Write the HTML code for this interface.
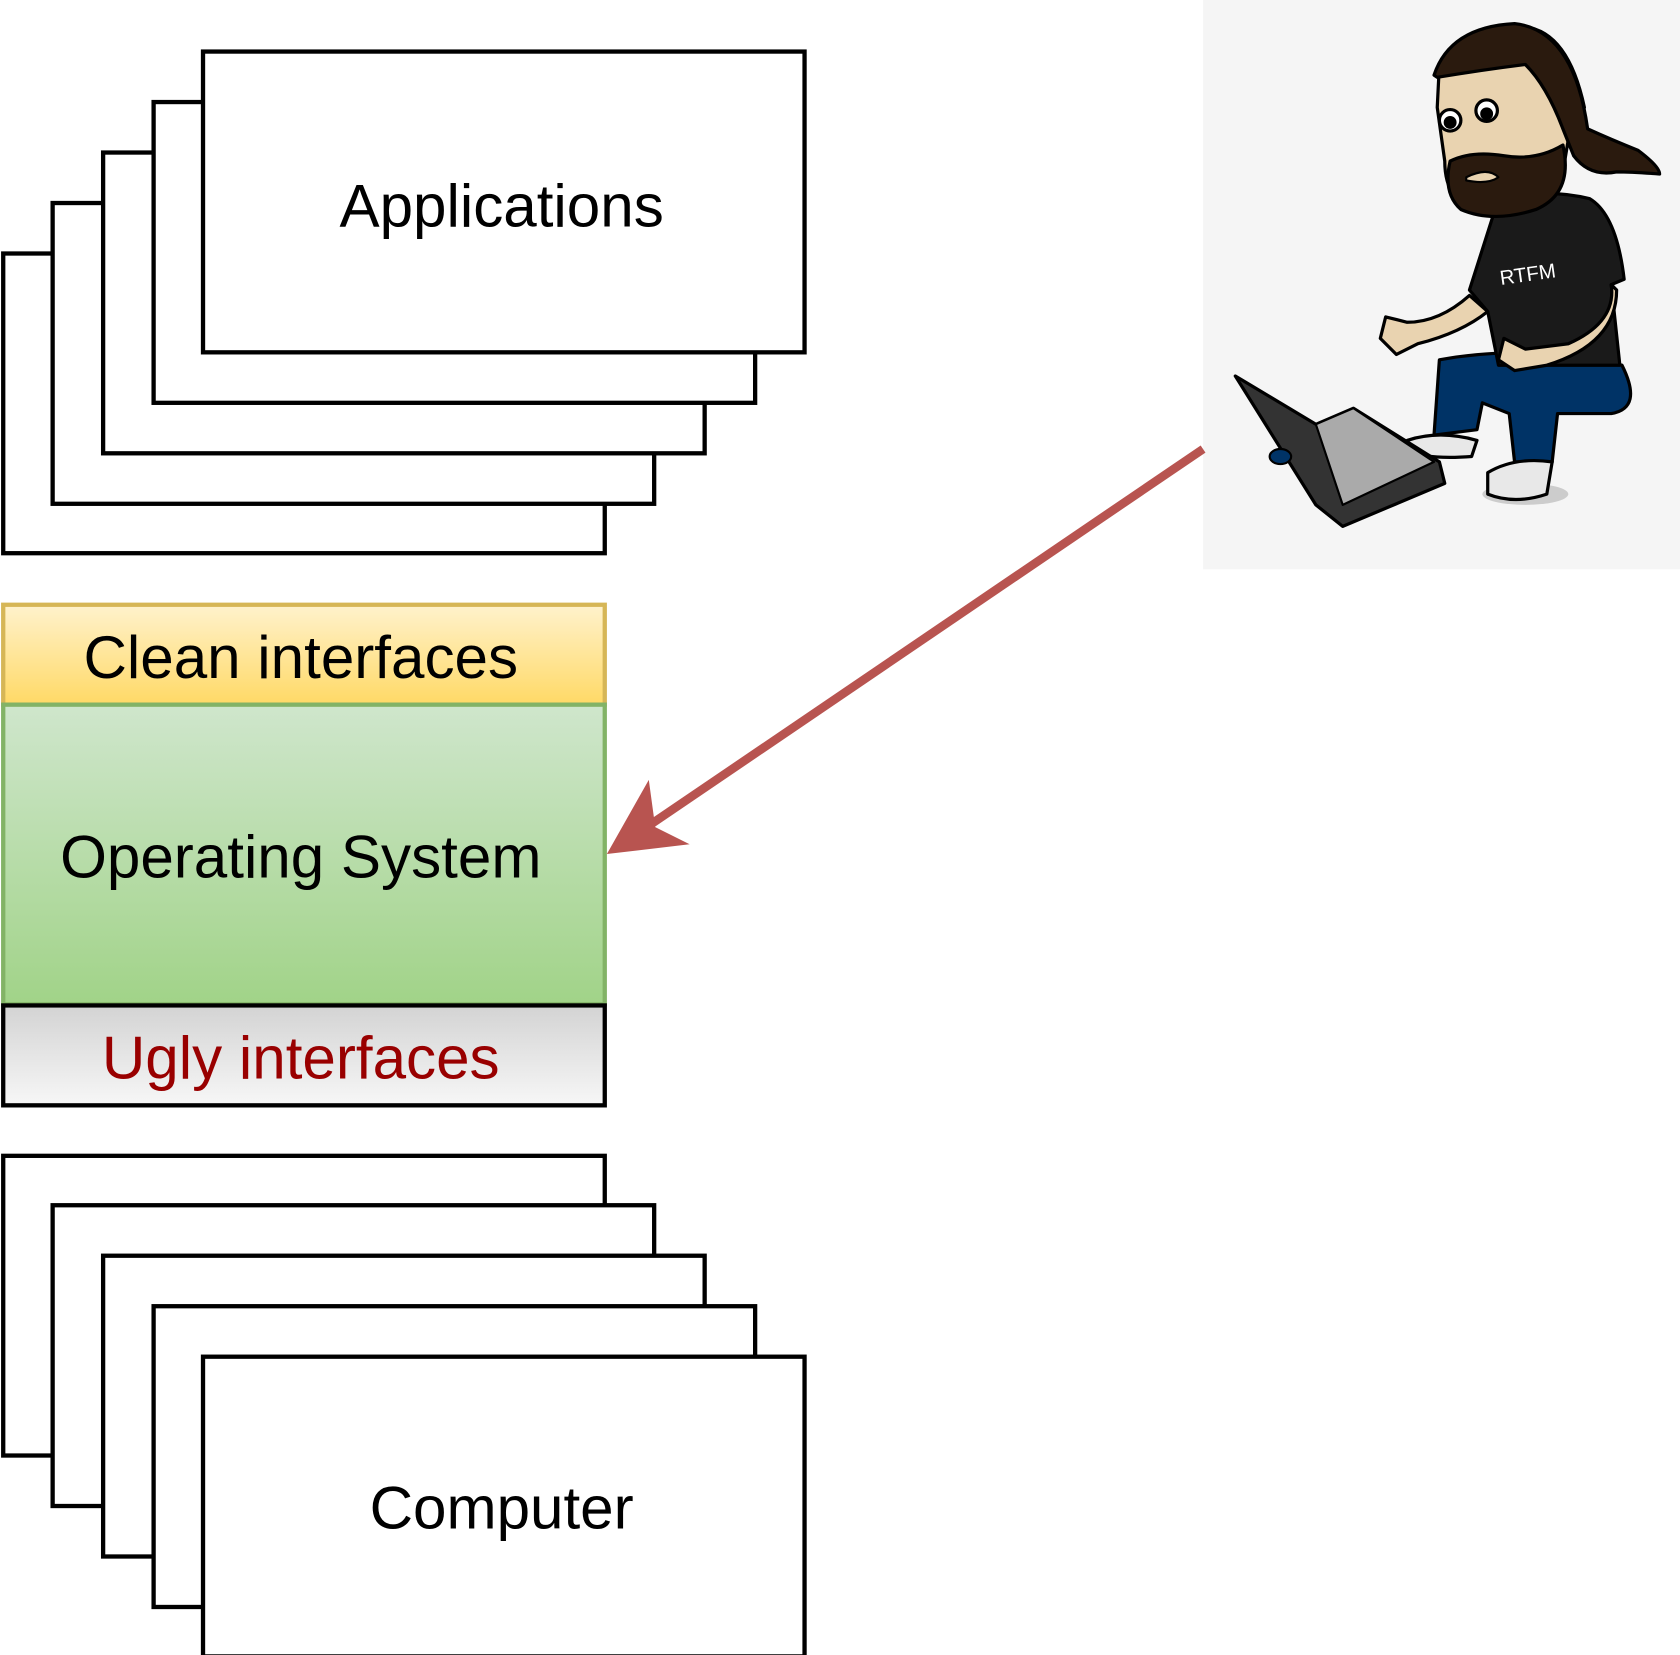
<!DOCTYPE html>
<html><head><meta charset="utf-8"><style>html,body{margin:0;padding:0;background:#fff}svg{display:block}</style></head>
<body>
<svg width="1680" height="1655" viewBox="0 0 1564 1540.7" preserveAspectRatio="none" xmlns="http://www.w3.org/2000/svg" font-family="Liberation Sans, sans-serif">
<defs>
<linearGradient id="y" x1="0" y1="0" x2="0" y2="1"><stop offset="0" stop-color="#fff2cc"/><stop offset="1" stop-color="#ffd966"/></linearGradient>
<linearGradient id="g" x1="0" y1="0" x2="0" y2="1"><stop offset="0" stop-color="#cfe6cc"/><stop offset="1" stop-color="#a1d388"/></linearGradient>
<linearGradient id="gr" x1="0" y1="0" x2="0" y2="1"><stop offset="0" stop-color="#d3d3d3"/><stop offset="1" stop-color="#f7f7f7"/></linearGradient>
</defs>
<g fill="#fff" stroke="#000" stroke-width="4">
<rect x="3" y="236" width="560" height="279"/>
<rect x="49" y="189" width="560" height="280"/>
<rect x="96" y="142" width="560" height="280"/>
<rect x="143" y="95" width="560" height="280"/>
<rect x="189" y="48" width="560" height="280"/>
</g>
<text x="467" y="211" font-size="56" text-anchor="middle">Applications</text>

<rect x="3" y="563" width="560" height="93" fill="url(#y)" stroke="#d6b656" stroke-width="4"/>
<text x="280" y="631" font-size="56" text-anchor="middle">Clean interfaces</text>
<rect x="3" y="656" width="560" height="279" fill="url(#g)" stroke="#82b366" stroke-width="4"/>
<text x="280" y="817" font-size="56" text-anchor="middle">Operating System</text>
<rect x="3" y="936" width="560" height="93" fill="url(#gr)" stroke="#000" stroke-width="4"/>
<text x="280" y="1004" font-size="56" text-anchor="middle" fill="#990000">Ugly interfaces</text>

<g fill="#fff" stroke="#000" stroke-width="4">
<rect x="3" y="1076" width="560" height="279"/>
<rect x="49" y="1122" width="560" height="280"/>
<rect x="96" y="1169" width="560" height="280"/>
<rect x="143" y="1216" width="560" height="280"/>
<rect x="189" y="1263" width="560" height="279"/>
</g>
<text x="467" y="1423" font-size="56" text-anchor="middle">Computer</text>

<rect x="1120" y="0" width="444" height="530" fill="#f5f5f5"/>
<line x1="1120" y1="418" x2="605" y2="768" stroke="#b85450" stroke-width="8"/>
<path d="M565,795 L604,726 L610,770 L642,786 Z" fill="#b85450"/>

<g stroke="#000" stroke-width="3" stroke-linejoin="round">
<ellipse cx="1420" cy="460" rx="40" ry="10" fill="#ccc" stroke="none"/>
<path d="M1340,335 Q1420,320 1510,340 Q1530,380 1500,385 L1450,385 L1445,430 L1410,430 L1405,385 L1380,375 L1375,400 L1335,405 Z" fill="#003366"/>
<path d="M1310,410 Q1340,400 1375,410 L1370,425 Q1330,428 1310,420 Z" fill="#e8e8e8"/>
<path d="M1385,440 Q1410,425 1445,430 L1440,460 Q1410,470 1385,460 Z" fill="#e8e8e8"/>
<path d="M1395,185 Q1440,175 1480,185 Q1505,200 1512,260 L1500,265 L1508,340 L1395,340 L1385,290 L1368,270 Z" fill="#1a1a1a"/>
<path d="M1368,275 Q1340,300 1310,300 L1290,295 L1285,315 L1300,330 L1320,320 Q1360,310 1385,290 Z" fill="#e9d3b0"/>
<path d="M1500,265 Q1505,300 1460,320 L1420,325 L1400,315 L1395,335 L1410,345 L1440,340 Q1505,320 1505,270 Z" fill="#e9d3b0"/>
<path d="M1340,60 Q1360,25 1420,25 Q1460,30 1475,100 L1460,130 L1455,160 Q1430,200 1380,200 Q1345,190 1345,150 L1338,100 Z" fill="#e9d3b0"/>
<path d="M1335,70 Q1350,25 1410,22 Q1465,28 1478,120 Q1500,130 1525,140 Q1545,155 1545,162 Q1520,160 1505,160 Q1480,165 1465,145 L1455,120 Q1440,80 1420,60 Q1380,65 1338,72 Z" fill="#2a1a0e"/>
<path d="M1350,150 Q1370,140 1400,145 Q1430,150 1455,135 Q1465,180 1430,195 Q1390,208 1360,195 Q1343,180 1350,150 Z" fill="#2a1a0e"/>
<path d="M1365,165 Q1385,155 1395,165 Q1385,172 1365,168 Z" fill="#e9d3b0" stroke-width="2"/>
<circle cx="1350" cy="112" r="10" fill="#fff"/><circle cx="1350" cy="114" r="6" fill="#000" stroke="none"/>
<circle cx="1384" cy="103" r="10" fill="#fff"/><circle cx="1384" cy="106" r="6" fill="#000" stroke="none"/>
<path d="M1150,350 L1225,395 L1260,380 L1340,430 L1345,450 L1250,490 L1225,470 Z" fill="#333"/>
<path d="M1225,395 L1260,380 L1335,430 L1250,470 Z" fill="#aaa" stroke-width="2"/>
<ellipse cx="1192" cy="425" rx="10" ry="7" fill="#003366" stroke-width="2"/>
</g>
<text x="1396" y="262" font-size="19" fill="#fff" transform="rotate(-8 1420 255)">RTFM</text>
</svg>
</body></html>
